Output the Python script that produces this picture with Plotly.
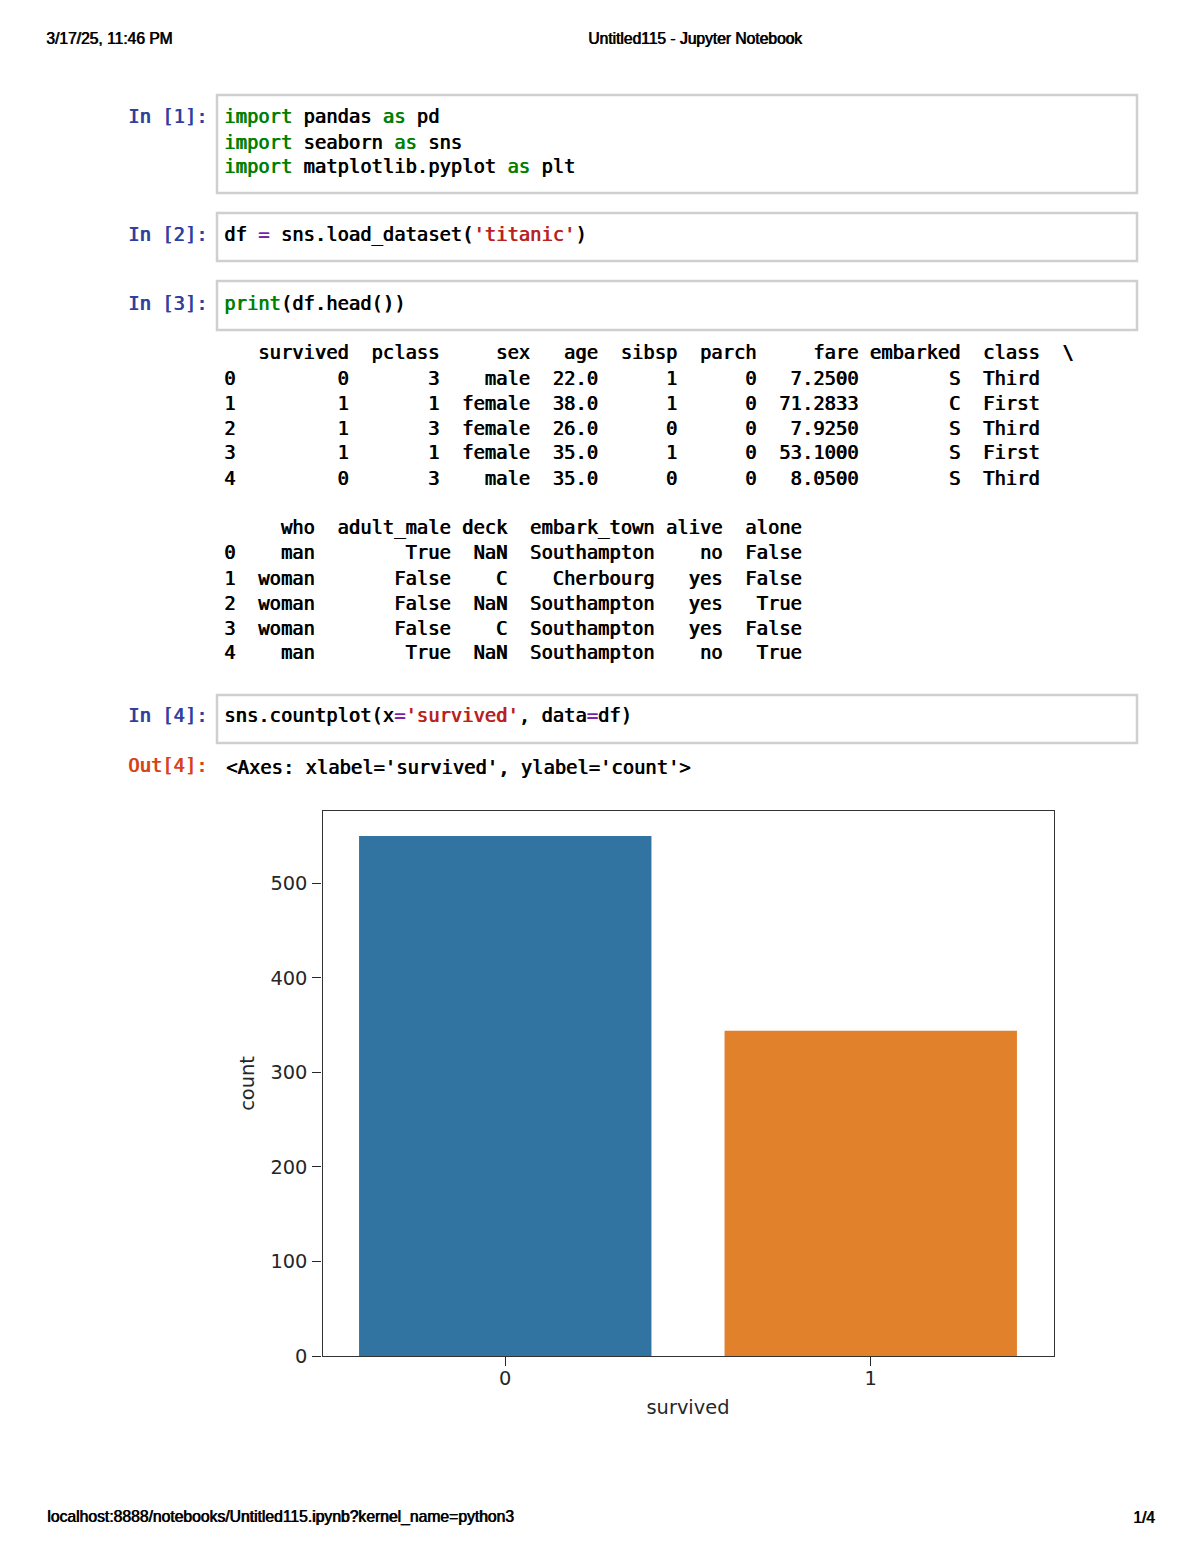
import plotly.graph_objects as go

# Chart values
survived_labels = ["0", "1"]
survived_counts = [550, 344]
bar_colors = ["#3274a1", "#e1812c"]
count_ticks = [0, 100, 200, 300, 400, 500]

# df.head() output, first block
idx = ["0", "1", "2", "3", "4"]
survived = ["0", "1", "1", "1", "0"]
pclass = ["3", "1", "3", "1", "3"]
sex = ["male", "female", "female", "female", "male"]
age = ["22.0", "38.0", "26.0", "35.0", "35.0"]
sibsp = ["1", "1", "0", "1", "0"]
parch = ["0", "0", "0", "0", "0"]
fare = ["7.2500", "71.2833", "7.9250", "53.1000", "8.0500"]
embarked = ["S", "C", "S", "S", "S"]
pclass_name = ["Third", "First", "Third", "First", "Third"]

# df.head() output, second block
who = ["man", "woman", "woman", "woman", "man"]
adult_male = ["True", "False", "False", "False", "True"]
deck = ["NaN", "C", "NaN", "C", "NaN"]
embark_town = ["Southampton", "Cherbourg", "Southampton", "Southampton", "Southampton"]
alive = ["no", "yes", "yes", "yes", "no"]
alone = ["False", "False", "True", "False", "True"]

W, H = 1200, 1553
MONO = "DejaVu Sans Mono"
SANS = "Liberation Sans"
GREEN = "#008000"
PURPLE = "#7a1fa8"
RED = "#ba2121"
BLUE = "#303f9f"
ORANGE = "#d84315"


def heavy(color):
    # the PDF raster has heavy, smeared glyphs
    return f"0.8px 0 0 {color}"


def col(text, color):
    return f'<span style="color:{color};text-shadow:{heavy(color)}">{text}</span>'


def table_lines(header, columns, widths):
    lines = [" " + "".join(h.rjust(w) for h, w in zip(header, widths))]
    for row in zip(idx, *columns):
        lines.append(row[0] + "".join(v.rjust(w) for v, w in zip(row[1:], widths)))
    return lines


block_one = table_lines(
    ["survived", "pclass", "sex", "age", "sibsp", "parch", "fare", "embarked", "class"],
    [survived, pclass, sex, age, sibsp, parch, fare, embarked, pclass_name],
    [10, 8, 8, 6, 7, 7, 9, 9, 7],
)
block_one[0] += "  \\"
block_two = table_lines(
    ["who", "adult_male", "deck", "embark_town", "alive", "alone"],
    [who, adult_male, deck, embark_town, alive, alone],
    [7, 12, 5, 13, 6, 7],
)

fig = go.Figure()
fig.add_trace(
    go.Bar(
        x=survived_labels,
        y=survived_counts,
        width=0.8,
        marker=dict(color=bar_colors, line=dict(width=0)),
    )
)


def page_text(x, y, text, size=18.82, family=MONO, color="#000000", anchor="left"):
    fig.add_annotation(
        x=x / W,
        y=1 - y / H,
        xref="paper",
        yref="paper",
        text=text,
        showarrow=False,
        xanchor=anchor,
        yanchor="middle",
        align="left",
        borderpad=0,
        borderwidth=0,
        font=dict(family=family, size=size, color=color, shadow=heavy(color)),
    )


def cell_box(y0, y1):
    fig.add_shape(
        type="rect",
        xref="paper",
        yref="paper",
        x0=217 / W,
        x1=1137 / W,
        y0=1 - y0 / H,
        y1=1 - y1 / H,
        line=dict(color="#cfcfcf", width=2.5),
        fillcolor="rgba(0,0,0,0)",
    )


# Page header and footer
page_text(46, 39, "3/17/25, 11:46 PM", size=15.6, family=SANS)
page_text(694.5, 39, "Untitled115 - Jupyter Notebook", size=15.6, family=SANS, anchor="center")
page_text(47, 1517, "localhost:8888/notebooks/Untitled115.ipynb?kernel_name=python3", size=15.7, family=SANS)
page_text(1133, 1517, "1/4", size=15.6, family=SANS)

# Notebook cells
for y0, y1 in [(95, 193), (213, 261), (281, 330), (695, 743)]:
    cell_box(y0, y1)

for y, label in [(117, "In [1]:"), (235, "In [2]:"), (303, "In [3]:"), (715, "In [4]:")]:
    page_text(128, y, label, color=BLUE)
page_text(128, 765, "Out[4]:", color=ORANGE)

imp = col("import", GREEN)
as_kw = col("as", GREEN)
eq = col("=", PURPLE)
code_lines = [
    (117, f"{imp} pandas {as_kw} pd"),
    (142, f"{imp} seaborn {as_kw} sns"),
    (167, f"{imp} matplotlib.pyplot {as_kw} plt"),
    (235, f"df {eq} sns.load_dataset({col(chr(39) + 'titanic' + chr(39), RED)})"),
    (303, f"{col('print', GREEN)}(df.head())"),
    (715, f"sns.countplot(x{eq}{col(chr(39) + 'survived' + chr(39), RED)}, data{eq}df)"),
]
for y, line in code_lines:
    page_text(224, y, line)

for i, line in enumerate(block_one):
    page_text(224, 353 + 25 * i, line)
for i, line in enumerate(block_two):
    page_text(224, 528 + 25 * i, line)

page_text(226, 767, "&lt;Axes: xlabel='survived', ylabel='count'&gt;")

axis_font = dict(family="DejaVu Sans", size=19.4, color="#262626")
fig.update_layout(
    template="none",
    width=W,
    height=H,
    autosize=False,
    margin=dict(l=0, r=0, t=0, b=0),
    paper_bgcolor="white",
    plot_bgcolor="white",
    showlegend=False,
    xaxis=dict(
        domain=[322.5 / W, 1053.5 / W],
        type="category",
        range=[-0.5, 1.5],
        automargin=False,
        title=dict(text="survived", font=axis_font, standoff=10),
        tickfont=axis_font,
        ticks="outside",
        ticklen=9,
        tickwidth=1.3,
        tickcolor="#262626",
        ticklabelstandoff=-4,
        showline=True,
        linecolor="#333333",
        linewidth=1.4,
        mirror=True,
        showgrid=False,
        zeroline=False,
    ),
    yaxis=dict(
        domain=[1 - 1356 / H, 1 - 811 / H],
        range=[0, 576.45],
        tickvals=count_ticks,
        automargin=False,
        title=dict(text="count", font=axis_font, standoff=10),
        tickfont=axis_font,
        ticks="outside",
        ticklen=9,
        tickwidth=1.3,
        tickcolor="#262626",
        ticklabelstandoff=1,
        showline=True,
        linecolor="#333333",
        linewidth=1.4,
        mirror=True,
        showgrid=False,
        zeroline=False,
    ),
)

fig.write_html(
    "out.html",
    config={"displayModeBar": False},
    post_script="document.body.style.margin='0';",
)
